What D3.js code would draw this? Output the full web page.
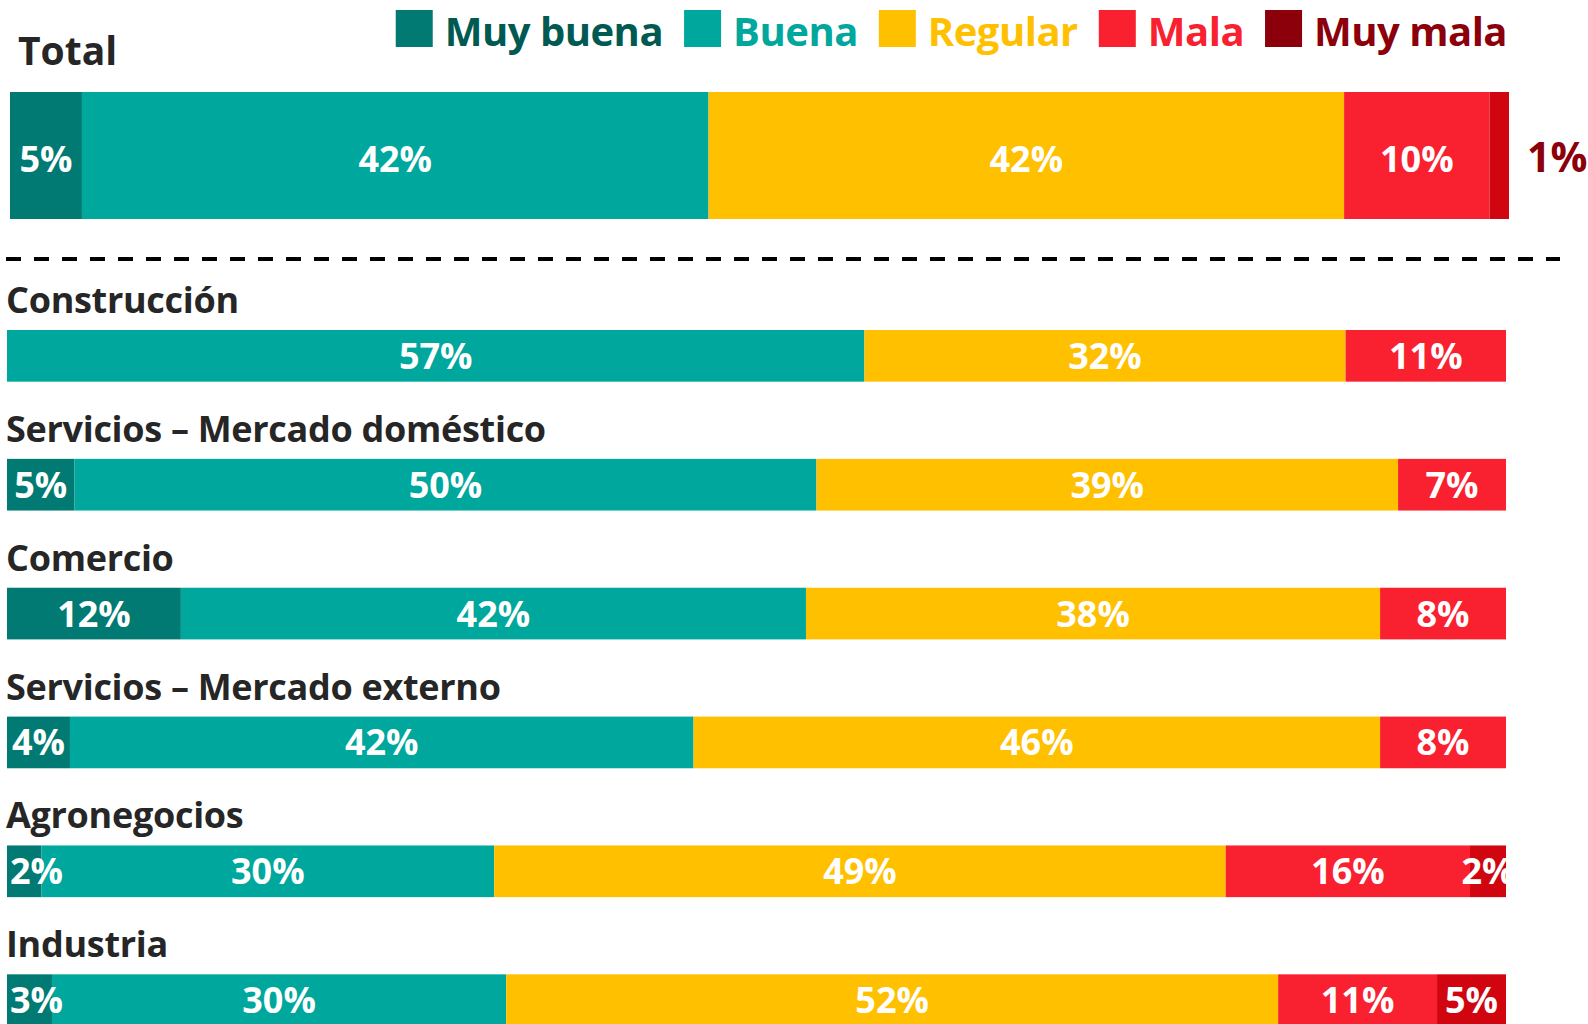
<!DOCTYPE html>
<html>
  <head>
    <meta charset="utf-8">
    <title>Situación del negocio por sector</title>
    <script src="https://d3js.org/d3.v7.min.js"></script>
  </head>
  <body style="margin:0">
<style>
  text {
    font-family: "Open Sans", sans-serif;
    font-weight: bold;
  }
  .title { fill: #262626; }
  .label { fill: #fff; text-anchor: middle; }
</style>
<script type="text/javascript">

  // data (percentages)
  var categories = ["Total", "Construcción", "Servicios – Mercado doméstico", "Comercio",
                    "Servicios – Mercado externo", "Agronegocios", "Industria"];
  var series = ["Muy buena", "Buena", "Regular", "Mala", "Muy mala"];

  var muyBuena = [4.8, 0, 4.5, 11.6, 4.2, 2.3, 3.0];
  var buena    = [41.8, 57.2, 49.5, 41.7, 41.6, 30.2, 30.3];
  var regular  = [42.4, 32.1, 38.8, 38.3, 45.8, 48.8, 51.5];
  var mala     = [9.7, 10.7, 7.2, 8.4, 8.4, 16.3, 10.6];
  var muyMala  = [1.3, 0, 0, 0, 0, 2.4, 4.6];

  // colours
  var barColors    = ["#007a72", "#00a79d", "#ffc000", "#f9212f", "#d0050f"];
  var legendColors = ["#007a72", "#00a79d", "#ffc000", "#f9212f", "#8b000a"];
  var legendText   = ["#005a52", "#00a79d", "#ffc000", "#f9212f", "#8b000a"];

  var w = 1588,
      h = 1024;

  // one row object per category for d3.stack
  var rows = categories.map(function(c, i) {
    return {
      name: c,
      "Muy buena": muyBuena[i],
      "Buena": buena[i],
      "Regular": regular[i],
      "Mala": mala[i],
      "Muy mala": muyMala[i]
    };
  });

  var stacked = d3.stack().keys(series)(rows);

  var svg = d3.select("body").append("svg")
    .attr("width", w)
    .attr("height", h)
    .style("display", "block");

  svg.append("rect")
    .attr("width", w)
    .attr("height", h)
    .attr("fill", "#fff");

  // scales: the total bar sits a bit to the right of the sector bars
  var xTotal = d3.scaleLinear().domain([0, 100]).range([10, 1509]);
  var x = d3.scaleLinear().domain([0, 100]).range([7, 1506]);

  var sectors = categories.slice(1);
  var y = d3.scaleBand()
    .domain(sectors)
    .range([330, 1026])
    .paddingInner(0.599)
    .paddingOuter(0);

  var totalTop = 92,
      totalHeight = 127;

  function xFor(name) { return name === "Total" ? xTotal : x; }
  function yTop(name) { return name === "Total" ? totalTop : y(name); }
  function bandH(name) { return name === "Total" ? totalHeight : y.bandwidth(); }

  // clip for the sector charts (labels that spill over the right edge get cut)
  svg.append("clipPath").attr("id", "plot")
    .append("rect")
      .attr("x", 0).attr("y", 300)
      .attr("width", x(100) + 1).attr("height", h);

  // titles
  svg.append("text")
    .attr("class", "title")
    .attr("x", 18)
    .attr("y", 65)
    .style("font-size", "39px")
    .text(categories[0]);

  svg.selectAll("text.sector")
    .data(sectors)
    .enter()
    .append("text")
      .attr("class", "title sector")
      .attr("x", 6)
      .attr("y", function(d) { return y(d) - 17; })
      .style("font-size", "36px")
      .style("letter-spacing", "-0.3px")
      .text(function(d) { return d; });

  // dashed separator
  svg.append("line")
    .attr("x1", 6).attr("x2", 1560)
    .attr("y1", 259).attr("y2", 259)
    .attr("stroke", "#000")
    .attr("stroke-width", 4)
    .attr("stroke-dasharray", "15,13");

  // bars
  var layer = svg.selectAll("g.layer")
    .data(stacked)
    .enter()
    .append("g")
      .attr("class", "layer")
      .attr("fill", function(d, i) { return barColors[i]; });

  layer.selectAll("rect")
    .data(function(d) { return d.filter(function(s) { return s[1] - s[0] > 0; }); })
    .enter()
    .append("rect")
      .attr("x", function(d) { return xFor(d.data.name)(d[0]); })
      .attr("y", function(d) { return yTop(d.data.name); })
      .attr("width", function(d) { var sx = xFor(d.data.name); return sx(d[1]) - sx(d[0]); })
      .attr("height", function(d) { return bandH(d.data.name); });

  // labels
  var labels = svg.append("g");
  stacked.forEach(function(s, si) {
    s.forEach(function(d) {
      var v = d[1] - d[0];
      if (v <= 0) return;
      var name = d.data.name,
          sx = xFor(name),
          cy = yTop(name) + bandH(name) / 2,
          t = labels.append("text")
            .attr("class", "label")
            .attr("y", cy + (name === "Total" ? 16 : 13))
            .style("font-size", "36px")
            .text(Math.round(v) + "%");
      if (name !== "Total") t.attr("clip-path", "url(#plot)");
      var cx = (sx(d[0]) + sx(d[1])) / 2;
      if (v < 1.5) {
        // tiny slice: label sits outside the bar
        t.style("font-size", "41px").style("fill", legendText[si]);
        var ow = t.node().getComputedTextLength();
        t.attr("x", sx(d[1]) + 18 + ow / 2);
      } else {
        var tw = t.node().getComputedTextLength();
        t.attr("x", Math.max(cx, sx(0) + 3 + tw / 2));
      }
    });
  });

  // legend, right aligned to the bars
  var legend = svg.append("g");
  var lx = 1507;
  for (var i = series.length - 1; i >= 0; i--) {
    var lt = legend.append("text")
      .attr("y", 46)
      .style("font-size", "40px")
      .style("letter-spacing", "-0.5px")
      .style("fill", legendText[i])
      .text(series[i]);
    var lw = lt.node().getComputedTextLength();
    lt.attr("x", lx - lw);
    legend.append("rect")
      .attr("x", lx - lw - 12 - 37)
      .attr("y", 10)
      .attr("width", 37)
      .attr("height", 37)
      .attr("fill", legendColors[i]);
    lx = lx - lw - 12 - 37 - 21;
  }

    </script>
  </body>
</html>
